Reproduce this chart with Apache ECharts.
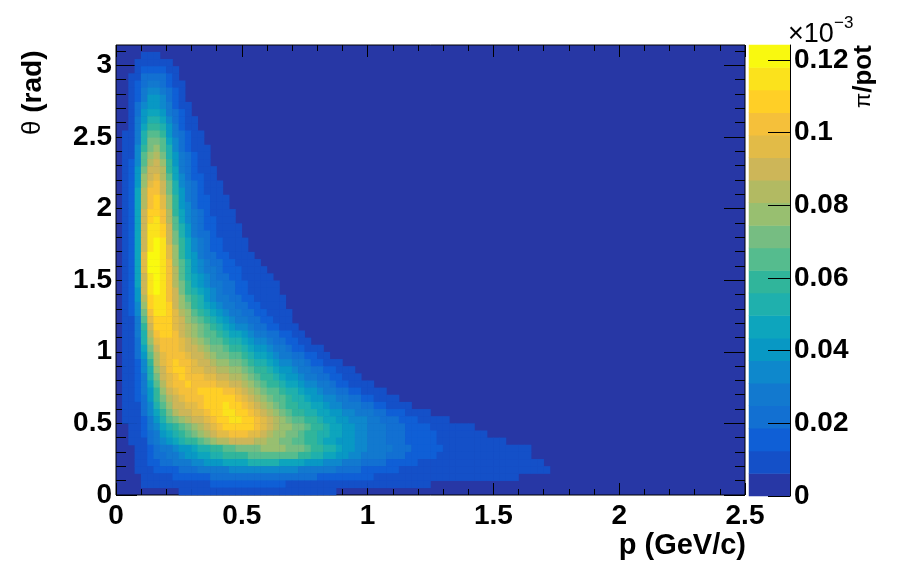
<!DOCTYPE html>
<html>
<head>
<meta charset="utf-8">
<title>theta vs p</title>
<style>
  html, body { margin: 0; padding: 0; background: #fff; }
  #chart { width: 898px; height: 571px; }
</style>
<script src="https://cdn.jsdelivr.net/npm/echarts@6/dist/echarts.min.js"></script>
</head>
<body>
<div id="chart"></div>
<script>
// 0.025 GeV/c wide columns, 0.05 rad tall rows. top row first
// each row: first column index, then the readings in units of 0.001 (colour bar scale)
const pBinCount = 100
const rowsTopDown = [
  [0],
  [4, 7,8,7],
  [3, 7,10,12,12,10,8],
  [3, 9,14,17,17,14,10,7],
  [2, 8,12,19,23,23,19,13,8],
  [2, 8,14,23,28,28,23,16,10,7],
  [2, 8,16,27,33,33,28,20,13,8],
  [2, 8,18,30,38,38,32,24,15,9],
  [2, 9,20,34,43,43,37,27,17,11,7],
  [2, 9,22,38,48,49,42,30,20,13,8],
  [2, 10,25,43,54,55,47,34,23,15,9,7],
  [2, 10,27,47,59,61,52,38,26,17,11,8],
  [1, 7,11,29,51,64,67,58,43,29,19,13,9,7],
  [1, 7,11,31,55,69,73,63,47,32,22,15,11,8],
  [1, 7,12,33,59,74,78,68,51,35,24,17,12,9,7],
  [1, 7,12,35,63,79,83,73,55,38,26,19,13,10,7],
  [1, 7,13,37,67,84,88,77,59,41,28,20,15,11,8],
  [1, 7,13,39,71,89,93,81,62,44,31,22,16,12,9,7],
  [1, 7,13,41,75,93,97,85,65,47,33,24,17,13,10,7],
  [1, 7,14,43,78,97,101,89,69,50,36,26,19,14,11,8,7],
  [1, 8,14,45,81,100,104,93,72,53,38,28,20,15,12,9,7],
  [1, 8,14,46,84,103,107,96,75,56,40,30,22,16,13,10,7,7],
  [1, 8,15,47,86,105,109,99,78,58,42,32,23,17,14,11,8,7],
  [1, 8,15,48,88,108,111,102,81,61,45,34,25,19,15,12,9,7,7],
  [1, 8,15,48,89,110,113,104,84,64,48,36,27,20,16,13,10,8,7],
  [1, 8,15,49,90,112,115,107,87,67,51,39,29,22,17,14,11,9,7,7],
  [1, 8,15,49,91,114,117,109,90,70,54,41,31,24,19,15,12,10,8,7],
  [1, 8,15,49,92,116,119,112,93,73,56,44,33,26,20,16,13,11,9,7,7],
  [1, 8,15,49,93,117,120,114,96,76,59,46,36,28,22,18,14,12,10,8,7],
  [1, 8,15,49,94,118,120,115,99,78,61,48,38,30,24,20,16,13,11,9,7,7],
  [1, 8,15,49,95,118,120,116,101,80,63,50,40,33,27,23,19,16,14,12,9,8,7],
  [1, 8,15,48,94,118,120,116,102,82,65,52,43,35,30,26,22,18,15,13,10,9,8,7],
  [1, 8,14,46,92,117,120,116,103,84,67,55,46,38,33,28,24,20,17,14,12,10,9,7,7],
  [1, 8,14,44,90,115,119,116,104,86,69,58,49,42,36,31,26,22,19,16,13,11,9,8,7,7],
  [1, 8,14,42,87,113,118,115,104,88,72,61,53,46,39,33,28,24,21,17,15,12,10,9,8,7],
  [1, 8,13,40,84,110,117,115,105,90,76,65,57,50,43,37,31,26,22,19,16,14,12,10,8,8,7],
  [1, 8,13,37,79,106,115,114,106,93,80,70,62,55,48,41,35,30,26,22,19,16,14,12,10,9,7],
  [1, 8,13,34,73,102,113,113,106,95,84,75,67,60,53,46,40,35,31,26,22,19,16,14,12,10,8,7],
  [1, 8,12,31,67,97,110,111,106,96,87,79,71,64,58,52,46,41,36,31,27,23,20,17,14,12,9,8],
  [1, 8,12,28,61,91,106,110,106,97,89,82,75,69,63,58,52,47,42,37,33,28,24,21,18,15,12,10,7],
  [1, 7,11,25,55,85,101,107,106,100,93,86,79,73,68,63,58,53,48,44,39,34,30,26,22,19,16,13,10,7],
  [1, 7,11,23,50,79,96,104,105,102,96,90,83,77,72,68,64,59,55,51,46,41,37,33,28,24,20,17,14,11,8],
  [1, 7,10,21,45,73,91,101,105,103,98,93,87,82,77,73,69,65,61,57,53,48,43,39,34,30,26,22,18,15,12,9,7],
  [1, 7,10,20,41,67,86,98,104,105,102,97,92,87,82,78,74,71,67,63,59,54,49,45,40,35,31,27,23,20,17,13,10,8],
  [1, 7,10,18,37,61,81,95,103,106,104,100,96,92,87,83,80,76,73,69,65,60,55,50,46,41,37,33,29,25,21,18,15,12,9,7],
  [1, 7,10,17,33,55,76,91,101,106,106,103,99,96,92,88,85,81,78,75,71,66,61,56,51,46,42,38,34,30,26,22,19,16,13,10,8,7],
  [1, 7,9,16,30,50,71,87,98,104,106,105,103,100,97,94,91,88,85,81,77,72,67,62,57,52,47,43,39,35,31,27,24,20,17,14,11,9,7],
  [1, 7,9,15,28,46,65,82,94,101,105,106,105,104,103,101,99,96,92,88,83,78,73,67,62,57,52,48,44,40,36,32,28,25,21,18,15,12,10,8,7],
  [1, 7,9,14,26,42,60,77,90,98,102,104,105,106,107,107,106,103,100,95,90,84,79,73,68,63,58,54,50,46,42,38,34,30,27,23,20,17,14,12,10,8,7],
  [1, 7,9,13,24,39,56,72,85,93,98,101,103,105,108,110,110,109,107,103,97,91,85,79,73,68,63,59,55,51,47,43,39,36,32,28,25,22,19,16,13,11,9,8,7],
  [1, 7,8,12,22,36,52,67,80,88,93,96,99,102,106,109,111,112,111,109,105,98,91,84,77,71,66,61,57,54,50,47,44,41,37,34,31,28,25,22,19,17,14,12,10,9,7],
  [1, 7,8,11,20,32,47,61,73,81,87,90,94,98,102,106,110,112,112,111,108,103,96,89,82,76,71,66,62,58,55,52,49,46,43,40,37,34,31,28,25,22,20,17,15,13,11,10,8,7],
  [1, 7,8,11,18,29,42,54,64,72,77,82,87,92,97,102,107,111,112,112,110,106,101,94,88,82,77,72,68,64,60,56,52,49,46,43,40,37,35,32,29,26,24,21,19,17,15,13,12,10,9,8,7],
  [2, 7,10,16,25,35,44,52,59,65,71,77,84,90,96,102,107,110,111,110,106,101,96,90,84,80,76,72,69,65,60,56,52,49,46,43,40,37,34,31,28,26,24,22,20,18,16,14,13,12,10,9,8,7,7,7],
  [2, 7,9,14,21,30,38,46,52,58,64,70,76,82,88,94,99,102,103,102,99,95,90,85,80,76,72,69,66,62,58,54,50,47,44,41,38,35,33,30,27,25,23,21,19,18,16,15,14,13,12,11,10,9,8,8,7,7],
  [2, 7,8,12,19,26,33,40,46,52,57,62,67,72,77,82,86,88,90,90,88,86,83,80,77,74,71,68,65,61,57,53,49,46,43,40,38,35,32,30,27,25,23,21,20,18,17,15,14,13,12,11,11,10,9,9,8,8,7,7,7],
  [3, 8,12,17,21,26,31,35,39,43,47,51,55,59,62,65,67,69,71,73,74,75,76,76,75,74,72,70,66,62,58,54,50,46,43,40,37,34,31,29,27,25,23,21,19,18,16,15,14,13,12,11,10,10,9,9,8,8,8,7,7,7,7,7],
  [3, 7,11,15,19,23,27,31,34,38,41,45,48,52,55,57,59,61,62,63,64,64,65,65,65,64,63,61,58,55,52,48,45,42,39,36,33,31,29,27,25,23,21,19,18,16,15,14,13,12,11,10,10,9,9,8,8,8,7,7,7,7,7,7],
  [3, 7,10,13,16,19,22,25,28,31,34,36,39,41,43,45,47,48,49,50,50,50,50,50,49,48,46,45,43,41,39,36,34,32,30,28,26,24,22,21,19,18,16,15,14,13,12,11,11,10,9,9,8,8,8,7,7,7,7,7,7,7,7,7,7,7],
  [3, 8,10,11,13,14,16,18,20,21,23,25,27,28,30,31,32,33,34,34,34,34,34,34,33,33,32,31,30,29,28,26,25,24,22,21,20,18,17,16,15,14,13,12,12,11,10,10,9,9,8,8,8,7,7,7,7,7,7,7,7,7,7,7,7,7,7],
  [4, 8,9,10,11,12,13,14,15,16,17,18,19,20,20,21,21,22,22,22,22,22,22,21,21,21,20,20,19,18,18,17,16,15,15,14,13,13,12,12,11,11,10,10,9,9,9,8,8,8,8,7,7,7,7,7,7,7,7,7,7],
  [4, 7,7,8,9,9,10,10,11,11,12,12,13,13,13,13,14,14,14,14,13,13,13,13,12,12,12,11,11,11,10,10,10,9,9,9,8,8,8,8,7,7,7,7,7,7,7],
  [10, 7,7,7,7,8,8,8,8,8,8,8,8,8,8,8,8,8,8,8,8,8,7,7,7,7]
]

const xMajorTicks = [0, 0.5, 1, 1.5, 2, 2.5]
const xMinorTicks = [0.1, 0.2, 0.3, 0.4, 0.6, 0.7, 0.8, 0.9, 1.1, 1.2, 1.3, 1.4, 1.6, 1.7, 1.8, 1.9, 2.1, 2.2, 2.3, 2.4]
const yMajorTicks = [0, 0.5, 1, 1.5, 2, 2.5, 3]
const yMinorTicks = [0.1, 0.2, 0.3, 0.4, 0.6, 0.7, 0.8, 0.9, 1.1, 1.2, 1.3, 1.4, 1.6, 1.7, 1.8, 1.9, 2.1, 2.2, 2.3, 2.4, 2.6, 2.7, 2.8, 2.9, 3.1]
const zTicks = [0, 0.02, 0.04, 0.06, 0.08, 0.1, 0.12]

const pMax = 2.5
const thetaMax = 3.1416
const zMax = 0.1241
const levelColors = [
  '#2737a5', '#1450c8', '#0f5fd6', '#1270d2', '#1279cf', '#0e88cc', '#0898c4',
  '#0da5bd', '#1fb0ad', '#30b59b', '#55bc8e', '#76bd82', '#98bf70', '#b2ba62',
  '#cdb658', '#e2bb47', '#f5c03a', '#ffcf26', '#fbe21c', '#f9f90f'
]

var cells = []
rowsTopDown.forEach(function (row, r) {
  var y = rowsTopDown.length - 1 - r
  for (var k = 1; k < row.length; k++) {
    cells.push([row[0] + k - 1, y, row[k] / 1000])
  }
})

var pieces = levelColors.map(function (color, i) {
  return { min: i * zMax / 20, max: (i + 1) * zMax / 20, color: color }
})

// one cell per level for the colour bar
var barCells = levelColors.map(function (c, i) {
  return [0, i, (i + 0.5) * zMax / 20]
})

function tickAxis(position, max, ticks, length, labels, grid) {
  return {
    type: 'value',
    gridIndex: grid || 0,
    position: position,
    min: 0,
    max: max,
    axisLine: { show: false, onZero: false },
    splitLine: { show: false },
    axisTick: { show: true, inside: true, length: length, customValues: ticks, lineStyle: { color: '#000', width: 1 } },
    axisLabel: labels ? {
      show: true,
      customValues: ticks,
      color: '#000',
      fontFamily: 'Liberation Sans',
      fontWeight: 'bold',
      fontSize: 28,
      margin: labels.margin,
      padding: labels.padding,
      formatter: function (v) { return String(v) }
    } : { show: false }
  }
}

var sideLabels = { margin: 4, padding: [5, 0, 0, 0] }
var bottomLabels = { margin: 7, padding: [0, 0, 0, 0] }

var chart = echarts.init(document.getElementById('chart'))

chart.setOption({
  animation: false,
  backgroundColor: '#fff',
  grid: [
    { left: 116, top: 45, width: 629, height: 450, show: true, borderColor: '#000', borderWidth: 1, backgroundColor: levelColors[0] },
    { left: 749, top: 45, width: 41, height: 451 }
  ],
  xAxis: [
    { type: 'category', show: false, data: Array.from({ length: pBinCount }, function (_, i) { return i }) },
    tickAxis('bottom', pMax, xMajorTicks, 12, bottomLabels),
    tickAxis('bottom', pMax, xMinorTicks, 6),
    tickAxis('top', pMax, xMajorTicks, 12),
    tickAxis('top', pMax, xMinorTicks, 6),
    { type: 'category', gridIndex: 1, show: false, data: [0] }
  ],
  yAxis: [
    { type: 'category', show: false, data: rowsTopDown.map(function (_, i) { return i }) },
    tickAxis('left', thetaMax, yMajorTicks, 21, sideLabels),
    tickAxis('left', thetaMax, yMinorTicks, 10),
    tickAxis('right', thetaMax, yMajorTicks, 21),
    tickAxis('right', thetaMax, yMinorTicks, 10),
    Object.assign(tickAxis('right', zMax, zTicks, 22, sideLabels, 1), {
      z: 6,
      axisLine: { show: true, onZero: false, lineStyle: { color: '#000', width: 1 } }
    }),
    { type: 'category', gridIndex: 1, show: false, data: levelColors.map(function (_, i) { return i }) }
  ],
  visualMap: {
    type: 'piecewise',
    show: false,
    seriesIndex: [0, 1],
    pieces: pieces
  },
  series: [{
    type: 'heatmap',
    xAxisIndex: 0,
    yAxisIndex: 0,
    data: cells,
    progressive: 0,
    silent: true
  }, {
    type: 'heatmap',
    xAxisIndex: 5,
    yAxisIndex: 6,
    data: barCells,
    progressive: 0,
    silent: true
  }],
  graphic: [
    {
      type: 'text', right: 152, top: 531,
      style: { text: 'p (GeV/c)', font: 'bold 29px "Liberation Sans"', fill: '#000' }
    },
    {
      type: 'text', x: 19, y: 135, rotation: Math.PI / 2,
      style: {
        text: '{g|θ} (rad)',
        font: 'bold 28px "Liberation Sans"',
        fill: '#000',
        rich: { g: { font: '26px "Liberation Sans"', fill: '#000' } }
      }
    },
    {
      type: 'text', x: 851, y: 108, rotation: Math.PI / 2,
      style: {
        text: '{g|π}/pot',
        font: 'bold 26px "Liberation Sans"',
        fill: '#000',
        rich: { g: { font: '22px "Liberation Sans"', fill: '#000' } }
      }
    },
    {
      type: 'text', x: 788, y: 21,
      style: { text: '×10', font: '27px "Liberation Sans"', fill: '#000' }
    },
    {
      type: 'text', x: 834, y: 15,
      style: { text: '−3', font: '17px "Liberation Sans"', fill: '#000' }
    }
  ]
})
</script>
</body>
</html>
